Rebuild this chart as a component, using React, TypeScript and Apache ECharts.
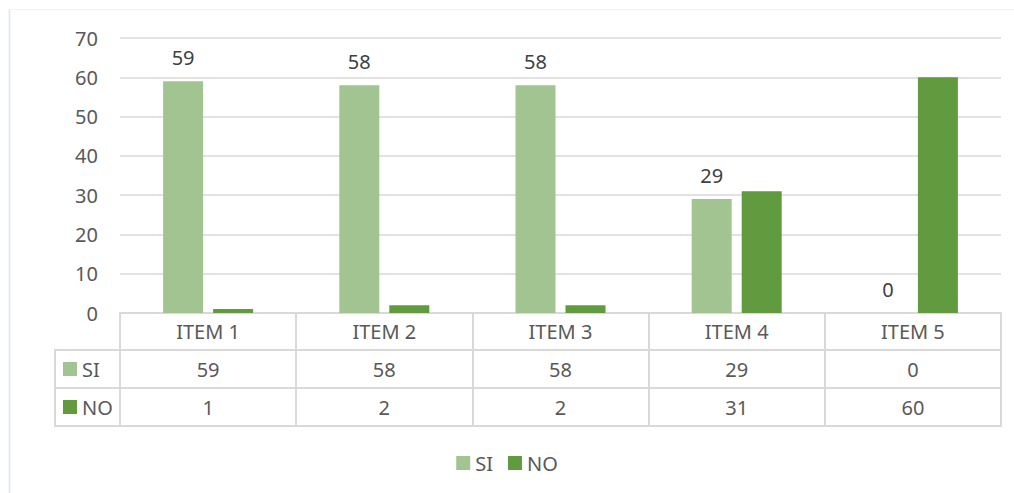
import React, { useEffect, useRef } from "react";
import * as echarts from "echarts";

const categories = ["ITEM 1", "ITEM 2", "ITEM 3", "ITEM 4", "ITEM 5"];
const siValues = [59, 58, 58, 29, 0];
const noValues = [1, 2, 2, 31, 60];
const seriesNames = ["SI", "NO"];
const seriesColors = ["#A2C490", "#629A3F"];
const yMin = 0;
const yMax = 70;
const yInterval = 10;

const W = 1014;
const H = 493;
const GRID_LEFT = 120;
const GRID_RIGHT = 13;
const GRID_TOP = 38;
const GRID_BOTTOM = 180;
const ROW_OFFSETS = [37, 75, 113];
const TABLE_LEFT = 55;
const LINE = "#d9d9d9";
const FONT = "Noto Sans";
const TXT = "#595959";

export default function App() {
  const ref = useRef<HTMLDivElement>(null);
  useEffect(() => {
    if (!ref.current) return;
    const chart = echarts.init(ref.current, null, { renderer: "svg" });
    const axisY = H - GRID_BOTTOM;
    const rowLabel = (i: number, y: number) => [
      { type: "rect", shape: { x: 63, y: y - 7, width: 14, height: 14 }, style: { fill: seriesColors[i] } },
      {
        type: "text",
        x: 82,
        y,
        style: { text: seriesNames[i], fontSize: 20, fontFamily: FONT, fill: TXT, verticalAlign: "middle" },
      },
    ];
    const r1 = axisY + ROW_OFFSETS[0];
    const r2 = axisY + ROW_OFFSETS[1];
    const r3 = axisY + ROW_OFFSETS[2];
    const baseXAxis = {
      type: "category",
      data: categories,
      position: "bottom",
      gridIndex: 0,
      axisLine: { show: true, lineStyle: { color: LINE, width: 2 } },
      axisTick: { show: false },
    };
    chart.setOption({
      animation: false,
      textStyle: { fontFamily: FONT },
      grid: { left: GRID_LEFT, right: GRID_RIGHT, top: GRID_TOP, bottom: GRID_BOTTOM, containLabel: false },
      legend: {
        data: seriesNames,
        top: 448,
        left: "center",
        icon: "rect",
        itemWidth: 14,
        itemHeight: 14,
        itemGap: 15,
        textStyle: { fontSize: 20, color: TXT, fontFamily: FONT },
      },
      xAxis: [
        {
          ...baseXAxis,
          offset: 0,
          axisTick: { show: true, interval: 0, length: ROW_OFFSETS[2], alignWithLabel: false, lineStyle: { color: LINE, width: 2 } },
          axisLabel: { interval: 0, margin: 18, verticalAlign: "middle", fontSize: 20, color: TXT, fontFamily: FONT },
        },
        {
          ...baseXAxis,
          offset: ROW_OFFSETS[0],
          axisLabel: {
            interval: 0,
            margin: 19,
            verticalAlign: "middle",
            fontSize: 20,
            color: TXT,
            fontFamily: FONT,
            formatter: (_v: string, i: number) => String(siValues[i]),
          },
        },
        {
          ...baseXAxis,
          offset: ROW_OFFSETS[1],
          axisLabel: {
            interval: 0,
            margin: 19,
            verticalAlign: "middle",
            fontSize: 20,
            color: TXT,
            fontFamily: FONT,
            formatter: (_v: string, i: number) => String(noValues[i]),
          },
        },
        {
          ...baseXAxis,
          offset: ROW_OFFSETS[2],
          axisLabel: { show: false },
        },
      ],
      yAxis: {
        type: "value",
        min: yMin,
        max: yMax,
        interval: yInterval,
        axisLine: { show: false },
        axisTick: { show: false },
        axisLabel: { margin: 22, fontSize: 20, color: TXT, fontFamily: FONT },
        splitLine: { lineStyle: { color: LINE, width: 1.5 } },
      },
      series: [
        {
          name: seriesNames[0],
          type: "bar",
          data: siValues,
          xAxisIndex: 0,
          barWidth: 40,
          barGap: "25%",
          itemStyle: { color: seriesColors[0] },
          label: { show: true, position: "top", distance: 14, fontSize: 20, color: "#404040", fontFamily: FONT },
        },
        {
          name: seriesNames[1],
          type: "bar",
          data: noValues,
          xAxisIndex: 0,
          barWidth: 40,
          barGap: "25%",
          itemStyle: { color: seriesColors[1] },
        },
      ],
      graphic: [
        { type: "line", shape: { x1: 9.5, y1: 9, x2: 9.5, y2: H }, style: { stroke: "#dce6f2", lineWidth: 1.5 } },
        { type: "line", shape: { x1: 9, y1: 9.5, x2: W, y2: 9.5 }, style: { stroke: "#f0f3f8", lineWidth: 1 } },
        { type: "line", shape: { x1: TABLE_LEFT, y1: r1, x2: GRID_LEFT, y2: r1 }, style: { stroke: LINE, lineWidth: 2 } },
        { type: "line", shape: { x1: TABLE_LEFT, y1: r2, x2: GRID_LEFT, y2: r2 }, style: { stroke: LINE, lineWidth: 2 } },
        { type: "line", shape: { x1: TABLE_LEFT, y1: r3, x2: GRID_LEFT, y2: r3 }, style: { stroke: LINE, lineWidth: 2 } },
        { type: "line", shape: { x1: TABLE_LEFT, y1: r1 - 1, x2: TABLE_LEFT, y2: r3 + 1 }, style: { stroke: LINE, lineWidth: 2 } },
        ...rowLabel(0, (r1 + r2) / 2),
        ...rowLabel(1, (r2 + r3) / 2),
      ],
    });
    return () => chart.dispose();
  }, []);
  return <div ref={ref} style={{ position: "fixed", left: 0, top: 0, width: W, height: H, background: "#fff" }} />;
}
